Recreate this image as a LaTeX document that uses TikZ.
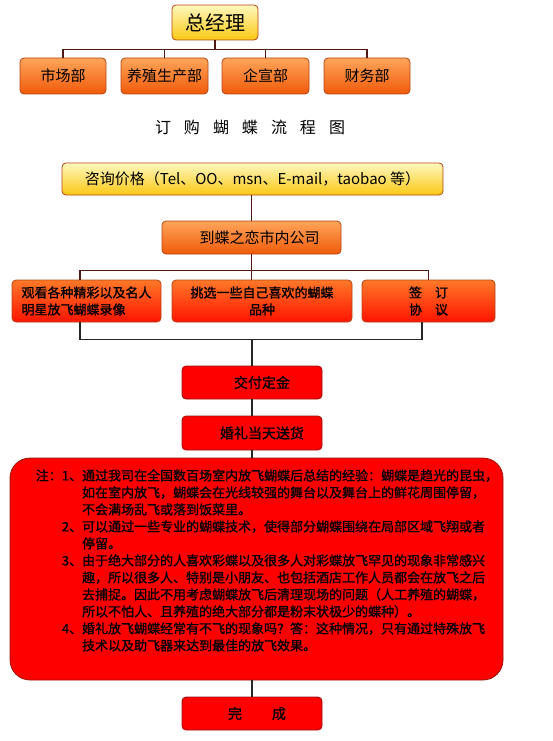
\documentclass[tikz,border=0pt]{standalone}
\usepackage{fontspec}
\setmainfont{Noto Sans CJK SC}
\newfontfamily\heavycjk[FakeBold=1.2]{Noto Sans CJK SC}
\definecolor{linkbrown}{RGB}{80,25,20}
\definecolor{edgeorange}{RGB}{180,70,20}
\definecolor{edgered}{RGB}{150,20,10}
\definecolor{yellowtop}{RGB}{255,248,190}
\definecolor{yellowbot}{RGB}{250,200,20}
\definecolor{orangetop}{RGB}{255,165,90}
\definecolor{orangebot}{RGB}{240,90,10}
\definecolor{redtop}{RGB}{255,120,40}
\definecolor{redbot}{RGB}{255,20,0}
\definecolor{flatred}{RGB}{255,0,0}
\tikzset{
  box/.style={draw=edgeorange, line width=0.8pt, rounded corners=4pt, inner sep=0pt, align=center},
  yellowbox/.style={box, top color=yellowtop, bottom color=yellowbot},
  orangebox/.style={box, top color=orangetop, bottom color=orangebot},
  redorangebox/.style={box, top color=redtop, bottom color=redbot},
  redbox/.style={box, draw=edgered, fill=flatred, minimum width=140pt, minimum height=33pt},
  orglink/.style={line width=1.8pt, draw=linkbrown},
  flowlink/.style={line width=1.4pt, draw=black!85},
}
\begin{document}
\begin{tikzpicture}[x=1pt,y=-1pt]
\useasboundingbox (0,0) rectangle (553,741);
% organisation
\node[yellowbox, minimum width=86pt, minimum height=35pt, font=\fontsize{20}{20}\selectfont] (gm) at (215,22.5) {总经理};
\node[orangebox, minimum width=86pt, minimum height=36pt, font=\fontsize{15}{15}\selectfont] (d1) at (63,76) {市场部};
\node[orangebox, minimum width=87pt, minimum height=36pt, font=\fontsize{15}{15}\selectfont] (d2) at (164.5,76) {养殖生产部};
\node[orangebox, minimum width=87pt, minimum height=36pt, font=\fontsize{15}{15}\selectfont] (d3) at (265.5,76) {企宣部};
\node[orangebox, minimum width=86pt, minimum height=36pt, font=\fontsize{15}{15}\selectfont] (d4) at (367,76) {财务部};
\draw[orglink] (gm.south) -- ++(0,10);
\draw[orglink] (d1.north) -- ++(0,-8) -| (d4.north);
\draw[orglink] (d2.north) -- ++(0,-8);
\draw[orglink] (d3.north) -- ++(0,-8);
\node[font=\fontsize{16}{16}\selectfont] (title) at (250,127) {订\hspace{13pt}购\hspace{13pt}蝴\hspace{13pt}蝶\hspace{13pt}流\hspace{13pt}程\hspace{13pt}图};
% ordering flow
\node[yellowbox, minimum width=381pt, minimum height=32pt, font=\fontsize{15}{15}\selectfont] (ask) at (252.5,179) {咨询价格（Tel、OO、msn、E-mail，taobao 等）};
\node[orangebox, minimum width=179pt, minimum height=33pt, font=\fontsize{15}{15}\selectfont] (shop) at (251.5,237.5) {\hspace*{16pt}到蝶之恋市内公司};
\node[redorangebox, minimum width=149pt, minimum height=42pt, font=\heavycjk\fontsize{13}{17}\selectfont, align=left] (watch) at (86.5,301) {观看各种精彩以及名人\\明星放飞蝴蝶录像};
\node[redorangebox, minimum width=180pt, minimum height=42pt, font=\heavycjk\fontsize{13}{17}\selectfont] (pick) at (262,301) {挑选一些自己喜欢的蝴蝶\\品种};
\node[redorangebox, minimum width=133pt, minimum height=42pt, font=\heavycjk\fontsize{13}{17}\selectfont] (sign) at (428.5,301) {签\quad 订\\协\quad 议};
\node[redbox, font=\heavycjk\fontsize{14}{14}\selectfont] (pay) at (252,382.5) {\hspace*{20pt}交付定金};
\node[redbox, minimum height=34pt, font=\heavycjk\fontsize{14}{14}\selectfont] (deliver) at (252,433) {\hspace*{20pt}婚礼当天送货};
\node[box, draw=edgered, fill=flatred, rounded corners=20pt, minimum width=493pt, minimum height=222pt] (notes) at (256.5,569) {};
\node[font=\heavycjk\fontsize{13}{17}\selectfont, inner sep=0pt] (notetext) at (267,562) {%
\begin{tabular}{@{}r@{}l@{}}
注：1、& 通过我司在全国数百场室内放飞蝴蝶后总结的经验：蝴蝶是趋光的昆虫，\\
 & 如在室内放飞，蝴蝶会在光线较强的舞台以及舞台上的鲜花周围停留，\\
 & 不会满场乱飞或落到饭菜里。\\
2、& 可以通过一些专业的蝴蝶技术，使得部分蝴蝶围绕在局部区域飞翔或者\\
 & 停留。\\
3、& 由于绝大部分的人喜欢彩蝶以及很多人对彩蝶放飞罕见的现象非常感兴\\
 & 趣，所以很多人、特别是小朋友、也包括酒店工作人员都会在放飞之后\\
 & 去捕捉。因此不用考虑蝴蝶放飞后清理现场的问题（人工养殖的蝴蝶，\\
 & 所以不怕人、且养殖的绝大部分都是粉末状极少的蝶种）。\\
4、& 婚礼放飞蝴蝶经常有不飞的现象吗？答：这种情况，只有通过特殊放飞\\
 & 技术以及助飞器来达到最佳的放飞效果。
\end{tabular}};
\node[redbox, font=\heavycjk\fontsize{14}{14}\selectfont] (done) at (252,713.5) {\hspace*{10pt}完\hspace{30pt}成};
\coordinate (merge) at (252,339);
\draw[orglink] (ask.south -| shop.south) -- (shop.north);
\draw[orglink] (shop.south) -- ++(0,16) coordinate (split);
\draw[orglink] ([xshift=-6.5pt]watch.north) |- (split) -| (sign.north);
\draw[orglink] (split) -- (split |- pick.north);
\draw[flowlink] ([xshift=-6.5pt]watch.south) -- ++(0,17) -| ([xshift=-6.5pt]sign.south);
\draw[flowlink] (merge) -- (pay.north);
\draw[flowlink] (pay.south) -- (deliver.north);
\draw[flowlink] (deliver.south) -- (notes.north -| deliver.south);
\draw[flowlink] (notes.south -| done.north) -- (done.north);
\end{tikzpicture}
\end{document}
